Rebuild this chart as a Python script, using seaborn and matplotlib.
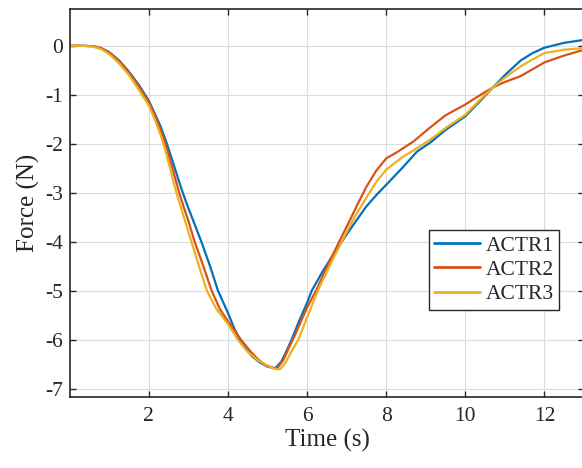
import matplotlib
matplotlib.use("Agg")
import matplotlib.pyplot as plt
import seaborn as sns
import pandas as pd

# ---- data ----
series_names = ["ACTR1", "ACTR2", "ACTR3"]

t_actr1 = [0.0, 0.3, 0.6, 0.8, 1.0, 1.25, 1.5, 1.75, 2.0, 2.15, 2.3, 2.45, 2.6, 2.73, 2.86,
           2.98, 3.1, 3.33, 3.55, 3.75, 4.0, 4.15, 4.3, 4.45, 4.6, 4.8, 5.0, 5.2, 5.35, 5.5,
           5.61, 5.8, 6.0, 6.12, 6.4, 6.65, 6.92, 7.2, 7.5, 7.75, 8.0, 8.4, 8.78, 9.11, 9.5,
           10.0, 10.35, 10.7, 11.0, 11.4, 11.7, 12.0, 12.5, 13.0]
f_actr1 = [0.0, 0.0, -0.01, -0.05, -0.13, -0.3, -0.53, -0.8, -1.12, -1.38, -1.65, -1.98, -2.35,
           -2.68, -3.0, -3.27, -3.52, -4.0, -4.5, -5.0, -5.45, -5.75, -6.0, -6.18, -6.33,
           -6.46, -6.55, -6.58, -6.45, -6.2, -6.0, -5.62, -5.25, -5.0, -4.6, -4.28, -3.95,
           -3.62, -3.28, -3.05, -2.84, -2.5, -2.16, -1.98, -1.72, -1.44, -1.15, -0.85, -0.6,
           -0.3, -0.15, -0.04, 0.06, 0.12]

t_actr2 = [0.0, 0.3, 0.6, 0.8, 1.0, 1.25, 1.5, 1.75, 2.0, 2.15, 2.3, 2.42, 2.55, 2.66, 2.77,
           2.88, 3.0, 3.16, 3.38, 3.59, 3.8, 4.0, 4.2, 4.35, 4.55, 4.76, 4.95, 5.15, 5.25, 5.4,
           5.55, 5.7, 5.85, 6.0, 6.24, 6.5, 6.8, 7.09, 7.3, 7.5, 7.75, 8.0, 8.28, 8.68, 9.11,
           9.5, 10.0, 10.35, 10.7, 11.0, 11.4, 11.7, 12.0, 12.5, 13.0]
f_actr2 = [0.0, 0.0, -0.01, -0.05, -0.14, -0.32, -0.55, -0.83, -1.15, -1.42, -1.72, -2.0, -2.36,
           -2.68, -3.0, -3.28, -3.57, -4.0, -4.5, -5.0, -5.38, -5.62, -5.85, -6.02, -6.22,
           -6.4, -6.52, -6.58, -6.58, -6.42, -6.15, -5.9, -5.62, -5.35, -4.98, -4.52, -4.02,
           -3.55, -3.2, -2.88, -2.55, -2.3, -2.17, -1.96, -1.67, -1.42, -1.2, -1.02, -0.85,
           -0.74, -0.62, -0.48, -0.34, -0.2, -0.08]

t_actr3 = [0.0, 0.3, 0.6, 0.8, 1.0, 1.25, 1.5, 1.75, 2.0, 2.15, 2.3, 2.4, 2.5, 2.6, 2.7, 2.82,
           2.95, 3.08, 3.27, 3.47, 3.7, 4.0, 4.25, 4.5, 4.76, 5.0, 5.2, 5.32, 5.45, 5.6, 5.78,
           6.0, 6.15, 6.3, 6.6, 6.92, 7.2, 7.5, 7.75, 8.0, 8.4, 8.78, 9.11, 9.5, 10.0, 10.35,
           10.7, 11.0, 11.4, 11.7, 12.0, 12.5, 13.0]
f_actr3 = [0.0, 0.0, -0.02, -0.07, -0.17, -0.36, -0.6, -0.9, -1.22, -1.5, -1.82, -2.08, -2.38,
           -2.7, -3.0, -3.32, -3.66, -4.0, -4.5, -5.0, -5.36, -5.68, -6.0, -6.25, -6.42, -6.53,
           -6.6, -6.6, -6.48, -6.25, -6.0, -5.55, -5.25, -4.95, -4.45, -3.93, -3.5, -3.1,
           -2.78, -2.53, -2.28, -2.09, -1.92, -1.68, -1.41, -1.12, -0.85, -0.65, -0.42, -0.28,
           -0.15, -0.08, -0.05]

x_ticks = [2, 4, 6, 8, 10, 12]
y_ticks = [-7, -6, -5, -4, -3, -2, -1, 0]
line_colors = ["#0072BD", "#D95319", "#EDB120"]

frames = []
for name, t, f in zip(series_names, [t_actr1, t_actr2, t_actr3], [f_actr1, f_actr2, f_actr3]):
    frames.append(pd.DataFrame({"Time": t, "Force": f, "Series": name}))
df = pd.concat(frames, ignore_index=True)

# ---- style ----
sns.set_style("white")
plt.rcParams["font.family"] = ["Liberation Serif", "DejaVu Serif"]
plt.rcParams["lines.solid_joinstyle"] = "round"

fig = plt.figure(figsize=(5.82, 4.68), dpi=100)
ax = fig.add_axes([70 / 582, 71 / 468, (584 - 70) / 582, (397 - 9) / 468])

sns.lineplot(data=df, x="Time", y="Force", hue="Series", palette=line_colors,
             estimator=None, sort=False, linewidth=1.6, ax=ax)

ax.set_xlim(0.01, 13.0)
ax.set_ylim(-7.17, 0.75)
ax.set_xticks(x_ticks)
ax.set_yticks(y_ticks)
ax.set_xticklabels([str(v) for v in x_ticks])
ax.set_yticklabels([str(v) for v in y_ticks])

ax.grid(True, color="#dcdcdc", linewidth=0.8)
ax.set_axisbelow(True)

for sp in ax.spines.values():
    sp.set_visible(True)
    sp.set_color("#262626")
    sp.set_linewidth(1.2)

ax.tick_params(axis="both", which="major", direction="in", length=4.5, width=1.0,
               colors="#262626", labelsize=15.5, top=True, right=True,
               bottom=True, left=True)
ax.tick_params(axis="x", pad=7)
ax.tick_params(axis="y", pad=5)

ax.set_xlabel("Time (s)", fontsize=18, color="#262626", labelpad=2)
ax.set_ylabel("Force (N)", fontsize=18, color="#262626", labelpad=4)

handles, labels = ax.get_legend_handles_labels()
leg = ax.legend(handles, labels, loc="upper left", bbox_to_anchor=(0.698, 0.430),
                borderaxespad=0, frameon=True, fancybox=False, fontsize=15.5,
                handlelength=2.15, handletextpad=0.25, labelspacing=0.2,
                borderpad=0.25, edgecolor="#262626", framealpha=1)
leg.get_frame().set_linewidth(1.0)
for line in leg.get_lines():
    line.set_linewidth(2.0)

fig.savefig("out.png", dpi=100)
